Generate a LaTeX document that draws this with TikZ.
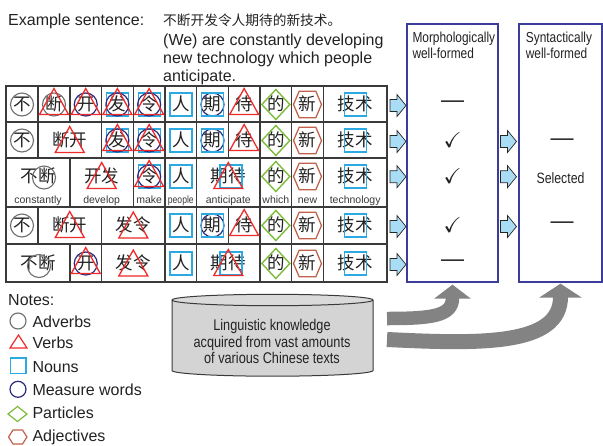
\documentclass[tikz,border=0pt]{standalone}
\usepackage{amssymb}
\usepackage{fontspec}
\setmainfont{Liberation Sans}
\newfontfamily\cjk{Noto Sans CJK SC}
\newfontfamily\condfont[FakeStretch=0.82]{Liberation Sans}
\usetikzlibrary{arrows.meta}
\definecolor{advc}{HTML}{6E6E6E}
\definecolor{verbc}{HTML}{EE2A2A}
\definecolor{nounc}{HTML}{2BA9E0}
\definecolor{measc}{HTML}{2B2A7E}
\definecolor{partc}{HTML}{7DBB3A}
\definecolor{adjc}{HTML}{C2604A}
\definecolor{boxc}{HTML}{3C3C9C}
\definecolor{arrc}{HTML}{A9DDF5}
\definecolor{bigarr}{HTML}{838383}
\definecolor{cylc}{HTML}{D4D4D4}
\definecolor{gridc}{HTML}{3A3A3A}
\definecolor{txtc}{HTML}{222222}
\newcommand\cjkcell[4]{\node[cell] (#1) at (#2,-#3-6.3) {#4};}
\newcommand\chkmark{\resizebox{18pt}{!}{$\checkmark$}}
\tikzset{
  cell/.style={font=\cjk\fontsize{17.5}{17.5}\selectfont, anchor=base, inner sep=0, text=txtc},
  lbl/.style={font=\fontsize{10.5}{11}\selectfont, anchor=base, inner sep=0, text=txtc!90},
  maintxt/.style={font=\fontsize{16}{18}\selectfont, anchor=base west, inner sep=0, text=txtc},
  hdr/.style={font=\condfont\fontsize{14.5}{15}\selectfont, anchor=base west, inner sep=0, text=txtc},
  chk/.style={inner sep=0, text=txtc},
  gridl/.style={draw=gridc, line width=1.1},
  mbox/.style={draw=boxc, line width=1.3, inner sep=0},
  advp/.pic={\draw[advc,line width=1.1] (0,0) circle[radius=11.5];},
  measp/.pic={\draw[measc,line width=1.2] (0,0) circle[radius=11.5];},
  nounp/.pic={\draw[nounc,line width=1.3] (-11,-11.5) rectangle (11,11.5);},
  verbp/.pic={\draw[verbc,line width=1.3,line join=miter] (-14.5,-10) -- (0,16) -- (14.5,-10) -- cycle;},
  partp/.pic={\draw[partc,line width=1.4] (-14,0) -- (0,15) -- (14,0) -- (0,-15) -- cycle;},
  adjp/.pic={\draw[adjc,line width=1.3] (-14,0) -- (-8.3,13.3) -- (8.3,13.3) -- (14,0) -- (8.3,-13.3) -- (-8.3,-13.3) -- cycle;},
  barrp/.pic={\draw[fill=arrc,draw=black!85,line width=0.7,line join=miter] (-8,6) -- (-1,6) -- (-1,11) -- (8,0) -- (-1,-11) -- (-1,-6) -- (-8,-6) -- cycle;},
  bigarrow/.style={draw=bigarr, -{Triangle[width=#1,length=14]}},
}
\begin{document}
\begin{tikzpicture}[x=1pt,y=1pt]
\useasboundingbox (0,0) rectangle (603,-445);

% ---- example sentence
\node[maintxt] (ex) at (8,-25) {Example sentence:};
\node[anchor=base west, inner sep=0, font=\cjk\fontsize{13.7}{14}\selectfont, text=txtc] (zh) at (163,-25) {不断开发令人期待的新技术。};
\node[maintxt] (en1) at (163,-45.7) {(We) are constantly developing};
\node[maintxt] (en2) at (163,-63.3) {new technology which people};
\node[maintxt] (en3) at (163,-81) {anticipate.};

% ---- table grid
\foreach \y in {122,158,207,244} \draw[gridl] (6,-\y) -- (387,-\y);
\foreach \x in {38,70,101.5,133.3,165,196.7,228.3,260,291.7,323.3} \draw[gridl] (\x,-86) -- (\x,-122);
\foreach \x in {38,101.5,133.3,165,196.7,228.3,260,291.7,323.3} \draw[gridl] (\x,-122) -- (\x,-158);
\foreach \x in {70,133.3,165,196.7,260,291.7,323.3} \draw[gridl] (\x,-158) -- (\x,-207);
\foreach \x in {38,101.5,165,196.7,228.3,260,291.7,323.3} \draw[gridl] (\x,-207) -- (\x,-244);
\foreach \x in {70,101.5,165,196.7,260,291.7,323.3} \draw[gridl] (\x,-244) -- (\x,-282);
\draw[draw=gridc, line width=1.7] (6,-86) rectangle (387,-282);

% ---- row 1
\cjkcell{a1}{22}{104.5}{不} \pic at (22,-104.5) {advp};
\cjkcell{a2}{54}{104.5}{断} \pic at (54,-104.5) {advp}; \pic at (54,-104.5) {verbp};
\cjkcell{a3}{85.75}{104.5}{开} \pic at (85.75,-104.5) {measp}; \pic at (85.75,-104.5) {verbp};
\cjkcell{a4}{117.4}{104.5}{发} \pic at (117.4,-104.5) {nounp}; \pic at (117.4,-104.5) {measp}; \pic at (117.4,-104.5) {verbp};
\cjkcell{a5}{149.15}{104.5}{令} \pic at (149.15,-104.5) {nounp}; \pic at (149.15,-104.5) {measp}; \pic at (149.15,-104.5) {verbp};
\cjkcell{a6}{180.85}{104.5}{人} \pic at (180.85,-104.5) {nounp};
\cjkcell{a7}{212.5}{104.5}{期} \pic at (212.5,-104.5) {measp}; \pic at (212.5,-104.5) {nounp};
\cjkcell{a8}{244.15}{104.5}{待} \pic at (244.15,-104.5) {verbp};
\cjkcell{a9}{275.85}{104.5}{的} \pic at (275.85,-104.5) {partp};
\cjkcell{a10}{307.5}{104.5}{新} \pic at (307.5,-104.5) {adjp};
\cjkcell{a11}{355.15}{104.5}{技术} \pic at (355.15,-104.5) {nounp};

% ---- row 2
\cjkcell{b1}{22}{140.5}{不} \pic at (22,-140.5) {advp};
\cjkcell{b2}{69.75}{140.5}{断开} \pic at (69.75,-142.5) {verbp};
\cjkcell{b3}{117.4}{140.5}{发} \pic at (117.4,-140.5) {nounp}; \pic at (117.4,-140.5) {measp}; \pic at (117.4,-140.5) {verbp};
\cjkcell{b4}{149.15}{140.5}{令} \pic at (149.15,-140.5) {nounp}; \pic at (149.15,-140.5) {measp}; \pic at (149.15,-140.5) {verbp};
\cjkcell{b5}{180.85}{140.5}{人} \pic at (180.85,-140.5) {nounp};
\cjkcell{b6}{212.5}{140.5}{期} \pic at (212.5,-140.5) {measp}; \pic at (212.5,-140.5) {nounp};
\cjkcell{b7}{244.15}{140.5}{待} \pic at (244.15,-140.5) {verbp};
\cjkcell{b8}{275.85}{140.5}{的} \pic at (275.85,-140.5) {partp};
\cjkcell{b9}{307.5}{140.5}{新} \pic at (307.5,-140.5) {adjp};
\cjkcell{b10}{355.15}{140.5}{技术} \pic at (355.15,-140.5) {nounp};

% ---- row 3
\cjkcell{c1}{38}{176.5}{不断} \pic at (44,-177.5) {advp};
\cjkcell{c2}{101.7}{176.5}{开发} \pic at (101.7,-178.5) {verbp};
\cjkcell{c3}{149.15}{176.5}{令} \pic at (149.15,-176.5) {nounp}; \pic at (149.15,-176.5) {measp}; \pic at (149.15,-176.5) {verbp};
\cjkcell{c4}{180.85}{176.5}{人} \pic at (180.85,-176.5) {nounp};
\cjkcell{c5}{228.3}{176.5}{期待} \pic at (231,-176.5) {nounp}; \pic at (228.3,-178.5) {verbp};
\cjkcell{c6}{275.85}{176.5}{的} \pic at (275.85,-176.5) {partp};
\cjkcell{c7}{307.5}{176.5}{新} \pic at (307.5,-176.5) {adjp};
\cjkcell{c8}{355.15}{176.5}{技术} \pic at (355.15,-176.5) {nounp};
\node[lbl] (l1) at (38,-203.3) {constantly};
\node[lbl] (l2) at (101.7,-203.3) {develop};
\node[lbl] (l3) at (149.15,-203.3) {make};
\node[lbl, font=\condfont\fontsize{10.5}{11}\selectfont] (l4) at (180.85,-203.3) {people};
\node[lbl] (l5) at (228.3,-203.3) {anticipate};
\node[lbl] (l6) at (275.85,-203.3) {which};
\node[lbl] (l7) at (307.5,-203.3) {new};
\node[lbl] (l8) at (355.15,-203.3) {technology};

% ---- row 4
\cjkcell{d1}{22}{225.5}{不} \pic at (22,-225.5) {advp};
\cjkcell{d2}{69.75}{225.5}{断开} \pic at (69.75,-227.5) {verbp};
\cjkcell{d3}{133.3}{225.5}{发令} \pic at (133.3,-228) {verbp};
\cjkcell{d4}{180.85}{225.5}{人} \pic at (180.85,-225.5) {nounp};
\cjkcell{d5}{212.5}{225.5}{期} \pic at (212.5,-225.5) {measp}; \pic at (212.5,-225.5) {nounp};
\cjkcell{d6}{244.15}{225.5}{待} \pic at (244.15,-225.5) {verbp};
\cjkcell{d7}{275.85}{225.5}{的} \pic at (275.85,-225.5) {partp};
\cjkcell{d8}{307.5}{225.5}{新} \pic at (307.5,-225.5) {adjp};
\cjkcell{d9}{355.15}{225.5}{技术} \pic at (355.15,-225.5) {nounp};

% ---- row 5
\cjkcell{e1}{38}{263.5}{不断} \pic at (39,-266) {advp};
\cjkcell{e2}{85.75}{263.5}{开} \pic at (85.75,-263.5) {measp}; \pic at (85.75,-263.5) {verbp};
\cjkcell{e3}{133.3}{263.5}{发令} \pic at (133.3,-266) {verbp};
\cjkcell{e4}{180.85}{263.5}{人} \pic at (180.85,-263.5) {nounp};
\cjkcell{e5}{228.3}{263.5}{期待} \pic at (231,-263.5) {nounp}; \pic at (228.3,-265.5) {verbp};
\cjkcell{e6}{275.85}{263.5}{的} \pic at (275.85,-263.5) {partp};
\cjkcell{e7}{307.5}{263.5}{新} \pic at (307.5,-263.5) {adjp};
\cjkcell{e8}{355.15}{263.5}{技术} \pic at (355.15,-263.5) {nounp};

% ---- small block arrows
\foreach \y in {105.5,141.5,176.7,226.5,264.5} \pic at (398,-\y) {barrp};
\foreach \y in {141.5,176.7,226.5} \pic at (508.5,-\y) {barrp};

% ---- result boxes
\node[mbox, minimum width=91, minimum height=258] (morph) at (452.5,-153) {};
\node[mbox, minimum width=83, minimum height=258] (syn) at (560.5,-153) {};
\node[hdr] (mh1) at (412.3,-42.7) {Morphologically};
\node[hdr] (mh2) at (412.3,-58.3) {well-formed};
\node[hdr] (sh1) at (525.7,-42.7) {Syntactically};
\node[hdr] (sh2) at (525.7,-58.3) {well-formed};

\node[inner sep=0, font=\fontsize{23}{23}\selectfont, text=txtc] (m1) at (452.5,-104.5) {—};
\node[chk] (m2) at (452.5,-140) {\chkmark};
\node[chk] (m3) at (452.5,-176) {\chkmark};
\node[chk] (m4) at (452.5,-225) {\chkmark};
\node[inner sep=0, font=\fontsize{23}{23}\selectfont, text=txtc] (m5) at (452.5,-262.7) {—};
\node[inner sep=0, font=\fontsize{23}{23}\selectfont, text=txtc] (s1) at (562,-141.7) {—};
\node[inner sep=0, font=\condfont\fontsize{15}{15}\selectfont, text=txtc] (s2) at (560.5,-177.7) {Selected};
\node[inner sep=0, font=\fontsize{23}{23}\selectfont, text=txtc] (s3) at (562,-225) {—};

% ---- knowledge cylinder
\draw[fill=cylc, draw=gridc, line width=1] (172,-300) -- (172,-370.5) arc[start angle=180,end angle=360,x radius=100.5,y radius=5.7] -- (373,-300);
\draw[fill=cylc!85!white, draw=gridc, line width=1] (272.5,-300) ellipse[x radius=100.5, y radius=5.7];
\node[inner sep=0, align=center, font=\condfont\fontsize{15.5}{16.7}\selectfont, text=txtc] (kb) at (272,-341.5) {Linguistic knowledge\\acquired from vast amounts\\of various Chinese texts};

% ---- big gray arrows
\coordinate (g1s) at (387,-318.5);
\coordinate (g2s) at (387,-339.5);
\coordinate (g1e) at ([yshift=-2]morph.south);
\coordinate (g2e) at ([yshift=-1]syn.south);
\draw[bigarrow=36, line width=13.5] (g1s) .. controls (432,-318.5) and (452.5,-316) .. (g1e);
\draw[bigarrow=42, line width=15] (g2s) .. controls (480,-344) and (560.5,-346) .. (g2e);

% ---- notes / legend
\node[maintxt] (nt) at (8,-305) {Notes:};
\draw[advc, line width=1.1] (18,-321) circle[radius=8];
\draw[verbc, line width=1.2, line join=miter] (10,-348) -- (18.5,-335) -- (27,-348) -- cycle;
\draw[nounc, line width=1.2] (10.7,-358) rectangle (26,-373.5);
\draw[measc, line width=1.2] (18,-389.3) circle[radius=8];
\draw[partc, line width=1.2] (8,-414) -- (17.5,-406.5) -- (27,-414) -- (17.5,-421.5) -- cycle;
\draw[adjc, line width=1.2] (8.5,-437) -- (13,-430) -- (22.5,-430) -- (27,-437) -- (22.5,-444) -- (13,-444) -- cycle;
\node[maintxt] (n1) at (32.3,-327.3) {Adverbs};
\node[maintxt] (n2) at (32.3,-348.3) {Verbs};
\node[maintxt] (n3) at (32.3,-372.3) {Nouns};
\node[maintxt] (n4) at (32.3,-395) {Measure words};
\node[maintxt] (n5) at (32.3,-418.3) {Particles};
\node[maintxt] (n6) at (32.3,-441.7) {Adjectives};
\end{tikzpicture}
\end{document}
